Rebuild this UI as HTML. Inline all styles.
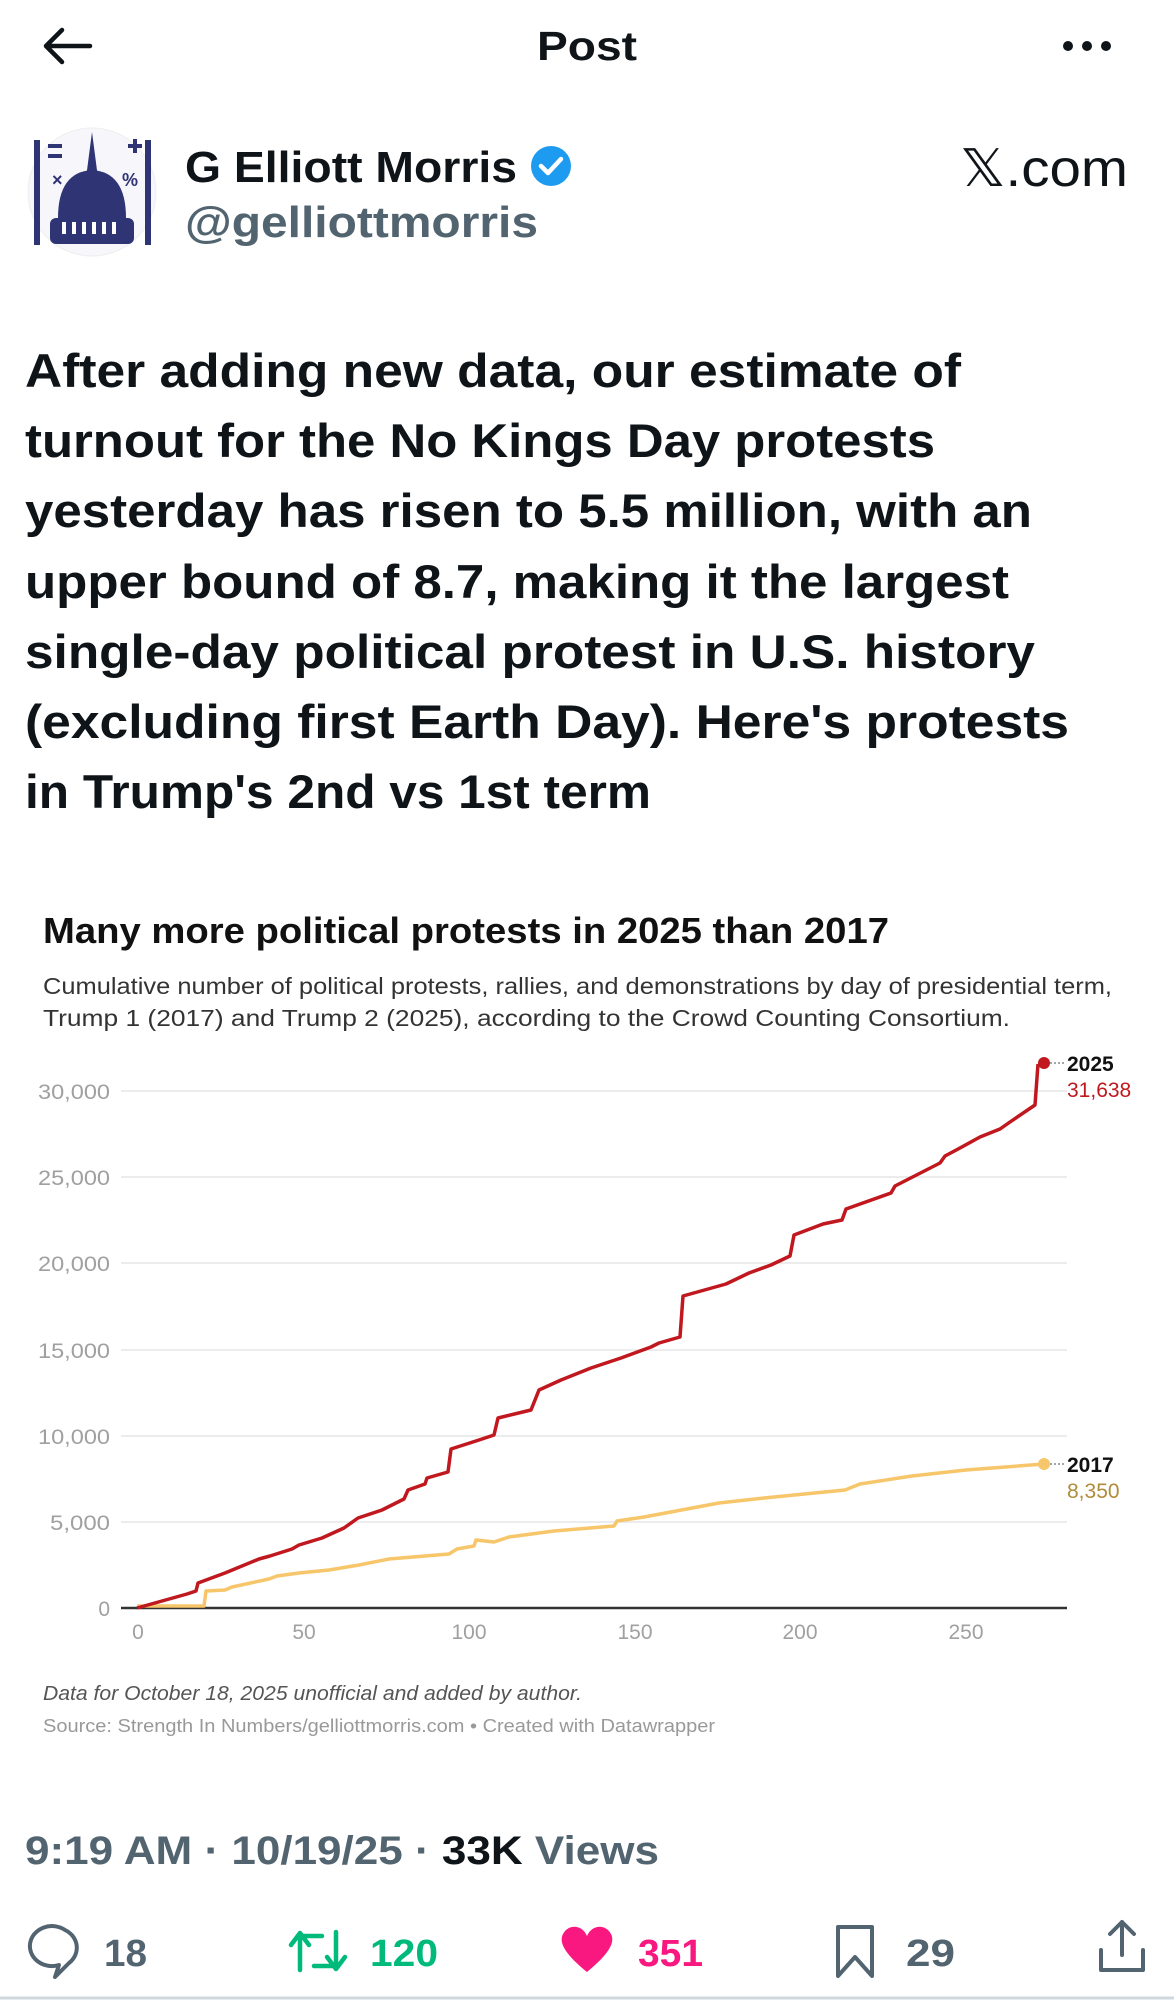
<!DOCTYPE html>
<html><head><meta charset="utf-8"><style>
html,body{margin:0;padding:0;background:#fff;}
svg{display:block;font-family:"Liberation Sans",Arial,sans-serif;}
</style></head><body>
<svg width="1174" height="2000" viewBox="0 0 1174 2000" xmlns="http://www.w3.org/2000/svg">
<rect width="1174" height="2000" fill="#fff"/>
<!-- header -->
<path d="M46 46 H90 M46 46 L62 30 M46 46 L62 62" stroke="#0f1419" stroke-width="4.5" fill="none" stroke-linecap="round" stroke-linejoin="round"/>
<text x="587" y="60" text-anchor="middle" font-size="41" font-weight="bold" fill="#0f1419" textLength="100" lengthAdjust="spacingAndGlyphs">Post</text>
<circle cx="1068" cy="46" r="5" fill="#0f1419"/><circle cx="1087" cy="46" r="5" fill="#0f1419"/><circle cx="1106" cy="46" r="5" fill="#0f1419"/>
<!-- avatar -->
<circle cx="92" cy="192" r="64" fill="#f7f7fb" stroke="#eee"/>
<g fill="#2f3475">
<rect x="34" y="140" width="6" height="105"/><rect x="145" y="140" width="6" height="105"/>
<rect x="48" y="144" width="14" height="4"/><rect x="48" y="154" width="14" height="4"/>
<rect x="128" y="144" width="14" height="4"/><rect x="133" y="139" width="4" height="14"/>
<path d="M86 178 L92 132 L98 178 Z"/>
<path d="M58 218 Q58 172 92 170 Q126 172 126 218 Z"/>
<rect x="50" y="218" width="84" height="26" rx="6"/>
</g>
<g fill="#fff"><rect x="62" y="222" width="4" height="12"/><rect x="72" y="222" width="4" height="12"/><rect x="82" y="222" width="4" height="12"/><rect x="92" y="222" width="4" height="12"/><rect x="102" y="222" width="4" height="12"/><rect x="112" y="222" width="4" height="12"/></g>
<text x="52" y="186" font-size="18" font-weight="bold" fill="#2f3475">×</text>
<text x="122" y="186" font-size="18" font-weight="bold" fill="#2f3475">%</text>
<!-- name -->
<text x="185" y="182" font-size="44" font-weight="bold" fill="#0f1419" textLength="332" lengthAdjust="spacingAndGlyphs">G Elliott Morris</text>
<circle cx="551" cy="166" r="20" fill="#1d9bf0"/>
<path d="M541 166 L548 173 L561 159" stroke="#fff" stroke-width="4.5" fill="none" stroke-linecap="round" stroke-linejoin="round"/>
<text x="185" y="237" font-size="44" font-weight="bold" fill="#536471" textLength="353" lengthAdjust="spacingAndGlyphs">@gelliottmorris</text>
<text x="1128" y="186" text-anchor="end" font-size="52" fill="#0f1419" textLength="168" lengthAdjust="spacingAndGlyphs">𝕏.com</text>
<!-- body -->
<g font-size="47" font-weight="bold" fill="#0f1419">
<text x="25" y="387" textLength="936" lengthAdjust="spacingAndGlyphs">After adding new data, our estimate of</text>
<text x="25" y="457" textLength="910" lengthAdjust="spacingAndGlyphs">turnout for the No Kings Day protests</text>
<text x="25" y="527" textLength="1007" lengthAdjust="spacingAndGlyphs">yesterday has risen to 5.5 million, with an</text>
<text x="25" y="598" textLength="984" lengthAdjust="spacingAndGlyphs">upper bound of 8.7, making it the largest</text>
<text x="25" y="668" textLength="1010" lengthAdjust="spacingAndGlyphs">single-day political protest in U.S. history</text>
<text x="25" y="738" textLength="1044" lengthAdjust="spacingAndGlyphs">(excluding first Earth Day). Here's protests</text>
<text x="25" y="808" textLength="626" lengthAdjust="spacingAndGlyphs">in Trump's 2nd vs 1st term</text>
</g>
<!-- chart -->
<text x="43" y="943" font-size="36" font-weight="bold" fill="#111" textLength="846" lengthAdjust="spacingAndGlyphs">Many more political protests in 2025 than 2017</text>
<text x="43" y="994" font-size="23" fill="#333" textLength="1069" lengthAdjust="spacingAndGlyphs">Cumulative number of political protests, rallies, and demonstrations by day of presidential term,</text>
<text x="43" y="1026" font-size="23" fill="#333" textLength="967" lengthAdjust="spacingAndGlyphs">Trump 1 (2017) and Trump 2 (2025), according to the Crowd Counting Consortium.</text>
<g stroke="#e6e6e6" stroke-width="1.5">
<line x1="121" y1="1091" x2="1067" y2="1091"/><line x1="121" y1="1177" x2="1067" y2="1177"/>
<line x1="121" y1="1263" x2="1067" y2="1263"/><line x1="121" y1="1350" x2="1067" y2="1350"/>
<line x1="121" y1="1436" x2="1067" y2="1436"/><line x1="121" y1="1522" x2="1067" y2="1522"/>
</g>
<line x1="121" y1="1608" x2="1067" y2="1608" stroke="#333" stroke-width="2.5"/>
<g font-size="21" fill="#a0a0a0" text-anchor="end">
<text x="110" y="1099" textLength="72" lengthAdjust="spacingAndGlyphs">30,000</text><text x="110" y="1185" textLength="72" lengthAdjust="spacingAndGlyphs">25,000</text><text x="110" y="1271" textLength="72" lengthAdjust="spacingAndGlyphs">20,000</text>
<text x="110" y="1358" textLength="72" lengthAdjust="spacingAndGlyphs">15,000</text><text x="110" y="1444" textLength="72" lengthAdjust="spacingAndGlyphs">10,000</text><text x="110" y="1530" textLength="60" lengthAdjust="spacingAndGlyphs">5,000</text><text x="110" y="1616">0</text>
</g>
<g font-size="21" fill="#a0a0a0" text-anchor="middle">
<text x="138" y="1639">0</text><text x="304" y="1639">50</text><text x="469" y="1639">100</text>
<text x="635" y="1639">150</text><text x="800" y="1639">200</text><text x="966" y="1639">250</text>
</g>
<polyline fill="none" stroke="#f7c66a" stroke-width="3.5" stroke-linejoin="round" points="137,1606 204,1606 206,1591 225,1590 232,1587 269,1579 277,1576 299,1573 329,1570 359,1565 389,1559 449,1554 457,1549 474,1546 476,1540 494,1542 509,1537 554,1531 614,1526 617,1521 644,1517 719,1503 764,1498 845,1490 860,1484 912,1476 966,1470 1044,1464"/>
<polyline fill="none" stroke="#c0181e" stroke-width="3.5" stroke-linejoin="round" points="137,1608 187,1594 196,1591 198,1583 225,1573 259,1559 270,1556 292,1549 299,1545 322,1538 344,1528 358,1518 382,1510 404,1499 408,1490 425,1484 427,1478 448,1472 451,1449 479,1440 494,1435 498,1418 531,1410 539,1390 561,1380 591,1368 621,1358 651,1347 659,1343 680,1337 683,1296 726,1284 749,1273 771,1265 790,1256 794,1235 823,1224 842,1220 846,1209 891,1193 895,1186 940,1163 945,1156 960,1148 980,1137 1000,1129 1010,1122 1035,1105 1038,1064"/>
<circle cx="1044" cy="1063" r="6" fill="#c0181e"/>
<circle cx="1044" cy="1464" r="6" fill="#f7c66a"/>
<line x1="1050" y1="1063" x2="1064" y2="1063" stroke="#888" stroke-width="1.5" stroke-dasharray="2,2"/>
<line x1="1050" y1="1464" x2="1064" y2="1464" stroke="#888" stroke-width="1.5" stroke-dasharray="2,2"/>
<text x="1067" y="1071" font-size="21" font-weight="bold" fill="#111">2025</text>
<text x="1067" y="1097" font-size="21" fill="#c0181e">31,638</text>
<text x="1067" y="1472" font-size="21" font-weight="bold" fill="#111">2017</text>
<text x="1067" y="1498" font-size="21" fill="#b08c3a">8,350</text>
<text x="43" y="1700" font-size="20" font-style="italic" fill="#555" textLength="539" lengthAdjust="spacingAndGlyphs">Data for October 18, 2025 unofficial and added by author.</text>
<text x="43" y="1732" font-size="18" fill="#999" textLength="672" lengthAdjust="spacingAndGlyphs">Source: Strength In Numbers/gelliottmorris.com • Created with Datawrapper</text>
<!-- timestamp -->
<text x="25" y="1864" font-size="40" font-weight="bold" fill="#536471" textLength="634" lengthAdjust="spacingAndGlyphs">9:19 AM · 10/19/25 · <tspan fill="#0f1419">33K</tspan> Views</text>
<!-- actions -->
<path d="M75 1930 a22 20 0 1 0 -6 35 l-4 12 l14 -14 a22 20 0 0 0 -4 -33z" transform="translate(-10,0)" fill="none" stroke="#536471" stroke-width="4" stroke-linejoin="round"/>
<text x="104" y="1966" font-size="38" font-weight="bold" fill="#536471" textLength="43" lengthAdjust="spacingAndGlyphs">18</text>
<g fill="none" stroke="#00ba7c" stroke-width="4.5" stroke-linecap="round" stroke-linejoin="round">
<path d="M300 1970 V1936 H322 M291 1945 L300 1933 L309 1945"/>
<path d="M336 1932 V1966 H314 M327 1957 L336 1969 L345 1957"/>
</g>
<text x="370" y="1966" font-size="38" font-weight="bold" fill="#00ba7c" textLength="68" lengthAdjust="spacingAndGlyphs">120</text>
<path d="M587 1972 C560 1950 560 1940 563 1934 C568 1924 582 1924 587 1936 C592 1924 606 1924 611 1934 C614 1940 614 1950 587 1972 Z" fill="#f91880"/>
<text x="638" y="1966" font-size="38" font-weight="bold" fill="#f91880" textLength="65" lengthAdjust="spacingAndGlyphs">351</text>
<path d="M838 1927 H872 V1976 L855 1957 L838 1976 Z" fill="none" stroke="#536471" stroke-width="4" stroke-linejoin="round"/>
<text x="906" y="1966" font-size="38" font-weight="bold" fill="#536471" textLength="49" lengthAdjust="spacingAndGlyphs">29</text>
<g fill="none" stroke="#536471" stroke-width="4" stroke-linecap="round" stroke-linejoin="round">
<path d="M1122 1955 V1922 M1110 1934 L1122 1922 L1134 1934"/>
<path d="M1101 1950 V1970 H1143 V1950"/>
</g>
<line x1="0" y1="1998" x2="1174" y2="1998" stroke="#cfd9de" stroke-width="3"/>
</svg>
</body></html>
